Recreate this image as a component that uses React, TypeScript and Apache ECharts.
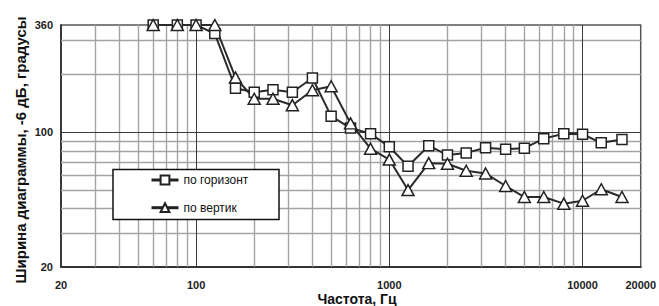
import React, { useEffect, useRef } from "react";
import * as echarts from "echarts";

const frequencies = [60, 80, 100, 125, 160, 200, 250, 315, 400, 500, 630, 800, 1000, 1250, 1600, 2000, 2500, 3150, 4000, 5000, 6300, 8000, 10000, 12500, 16000];
const horizontal = [360, 360, 360, 325, 169, 161, 166, 161, 191, 121, 105, 98, 84, 66.5, 85, 76, 78, 83, 81.5, 82.5, 92.5, 98, 97.5, 88, 91.5];
const vertical = [360, 360, 360, 360, 192, 149, 149, 138, 165, 173, 111, 82, 72, 50, 69, 68.5, 63, 61, 52.5, 46, 46, 42.5, 44, 50.5, 46];

const seriesNames = ["по горизонт", "по вертик"];
const xTitle = "Частота, Гц";
const yTitle = "Ширина диаграммы, -6 дБ, градусы";

const xMinorGrid = [30, 40, 50, 60, 70, 80, 90, 200, 300, 400, 500, 600, 700, 800, 900, 2000, 3000, 4000, 5000, 6000, 7000, 8000, 9000];
const xMajorGrid = [100, 1000, 10000];
const yMinorGrid = [30, 40, 50, 60, 70, 80, 90, 200, 300];
const yMajorGrid = [100];

const FONT = '"Liberation Sans", Arial, sans-serif';

export default function App() {
  const ref = useRef<HTMLDivElement>(null);
  useEffect(() => {
    if (!ref.current) return;
    const chart = echarts.init(ref.current, null, { renderer: "svg" });
    const minorStyle = { color: "#a3a3a3", width: 1.4, type: "solid" as const };
    const majorStyle = { color: "#3a3a3a", width: 1, type: "solid" as const };
    const gridLines = [
      ...xMinorGrid.map((v) => ({ xAxis: v, lineStyle: minorStyle })),
      ...yMinorGrid.map((v) => ({ yAxis: v, lineStyle: minorStyle })),
      ...xMajorGrid.map((v) => ({ xAxis: v, lineStyle: majorStyle })),
      ...yMajorGrid.map((v) => ({ yAxis: v, lineStyle: majorStyle })),
    ];
    const markerStyle = { color: "#fff", borderColor: "#222", borderWidth: 1.5 };
    chart.setOption({
      animation: false,
      grid: {
        left: 61,
        right: 17,
        top: 25,
        bottom: 39.3,
        show: true,
        borderColor: "#555",
        borderWidth: 1.5,
        backgroundColor: "#fff",
      },
      xAxis: {
        type: "log",
        logBase: 10,
        min: 20,
        max: 20000,
        splitLine: { show: false },
        axisTick: { show: false },
        axisLine: { show: true, lineStyle: { color: "#333", width: 2 } },
        axisLabel: {
          margin: 13,
          fontFamily: FONT,
          fontWeight: "bold",
          fontSize: 11,
          color: "#222",
          showMinLabel: true,
          showMaxLabel: true,
          formatter: (v: number) => String(Math.round(v)),
        },
      },
      yAxis: {
        type: "log",
        logBase: 10,
        min: 20,
        max: 360,
        splitLine: { show: false },
        axisTick: { show: false },
        axisLine: { show: true, lineStyle: { color: "#222", width: 1.5 } },
        axisLabel: {
          margin: 8,
          fontFamily: FONT,
          fontWeight: "bold",
          fontSize: 11,
          color: "#222",
          padding: [5, 0, 0, 0],
          showMinLabel: true,
          showMaxLabel: true,
          formatter: (v: number) => String(Math.round(v)),
        },
      },
      legend: {
        orient: "vertical",
        left: 150,
        top: 174,
        padding: 0,
        itemWidth: 27,
        itemHeight: 11,
        itemGap: 15.7,
        selectedMode: false,
        lineStyle: { width: 3, color: "#222" },
        textStyle: { fontFamily: FONT, fontSize: 12, color: "#111", lineHeight: 12 },
        data: seriesNames,
        z: 6,
      },
      series: [
        {
          name: "grid",
          type: "line",
          data: [],
          silent: true,
          z: 1,
          markLine: {
            z: 1,
            silent: true,
            symbol: ["none", "none"],
            label: { show: false },
            animation: false,
            data: gridLines,
          },
        },
        {
          name: seriesNames[0],
          type: "line",
          data: frequencies.map((f, i) => [f, horizontal[i]]),
          symbol: "rect",
          symbolSize: 10,
          clip: false,
          lineStyle: { color: "#2a2a2a", width: 2 },
          itemStyle: markerStyle,
          z: 2,
        },
        {
          name: seriesNames[1],
          type: "line",
          data: frequencies.map((f, i) => [f, vertical[i]]),
          symbol: "triangle",
          symbolSize: [12, 11],
          clip: false,
          lineStyle: { color: "#2a2a2a", width: 2 },
          itemStyle: markerStyle,
          z: 2,
        },
      ],
      graphic: [
        {
          type: "rect",
          z: 5,
          shape: { x: 113, y: 169.5, width: 166, height: 50 },
          style: { fill: "#fff", stroke: "#111", lineWidth: 1.5 },
        },
        {
          type: "text",
          z: 10,
          x: 357,
          y: 298.5,
          style: {
            text: xTitle,
            fontFamily: FONT,
            fontWeight: "bold",
            fontSize: 14,
            fill: "#111",
            align: "center",
            verticalAlign: "middle",
          },
        },
        {
          type: "text",
          z: 10,
          x: 20,
          y: 150,
          rotation: Math.PI / 2,
          style: {
            text: yTitle,
            fontFamily: FONT,
            fontWeight: "bold",
            fontSize: 15,
            fill: "#111",
            align: "center",
            verticalAlign: "middle",
          },
        },
      ],
    });
    return () => chart.dispose();
  }, []);
  return (
    <div
      ref={ref}
      style={{ position: "fixed", left: 0, top: 0, width: 659, height: 306, background: "#fff" }}
    />
  );
}
